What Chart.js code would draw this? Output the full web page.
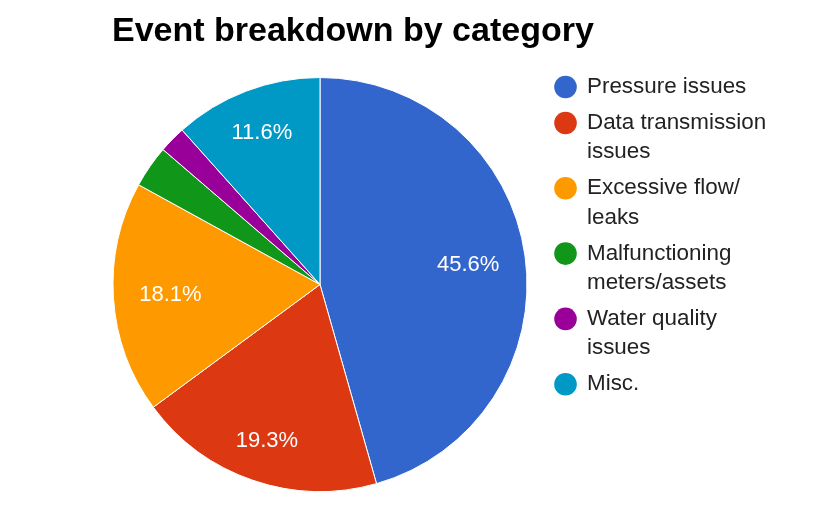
<!DOCTYPE html>
<html>
<head>
<meta charset="utf-8">
<script src="https://cdn.jsdelivr.net/npm/chart.js@4.4.1/dist/chart.umd.min.js"></script>
<style>
  body { margin: 0; background: #fff; }
  #wrap { width: 816px; height: 530px; position: relative; }
</style>
</head>
<body>
<div id="wrap"><canvas id="eventCanvas"></canvas></div>
<script>
const chartTitle = "Event breakdown by category";

const categories = [
  "Pressure issues",
  "Data transmission issues",
  "Excessive flow/leaks",
  "Malfunctioning meters/assets",
  "Water quality issues",
  "Misc."
];

// percent of events
const shares = [45.6, 19.3, 18.1, 3.3, 2.1, 11.6];

const sliceColors = [
  "#3366cc",
  "#dc3912",
  "#ff9900",
  "#109618",
  "#990099",
  "#0099c6"
];

const FONT = "'Liberation Sans', Arial, sans-serif";

// break a label into lines no wider than maxW (breaks after spaces and slashes)
function wrapLabel(ctx, text, maxW) {
  const tokens = text.match(/[^ \/]+[ \/]?/g) || [text];
  const lines = [];
  let line = "";
  tokens.forEach(function(tok) {
    const test = line + tok;
    if (line && ctx.measureText(test.trimEnd()).width > maxW) {
      lines.push(line.trimEnd());
      line = tok;
    } else {
      line = test;
    }
  });
  if (line) lines.push(line.trimEnd());
  return lines;
}

const extrasPlugin = {
  id: "extras",
  afterDraw(chart) {
    const ctx = chart.ctx;
    ctx.save();

    // title
    ctx.fillStyle = "#000";
    ctx.font = "bold 34px " + FONT;
    ctx.textAlign = "left";
    ctx.textBaseline = "middle";
    ctx.fillText(chartTitle, 112, 32);

    // slice labels
    const meta = chart.getDatasetMeta(0);
    const data = chart.data.datasets[0].data;
    const total = data.reduce(function(a, b) { return a + b; }, 0);
    ctx.font = "22px " + FONT;
    ctx.fillStyle = "#fff";
    ctx.textAlign = "center";
    meta.data.forEach(function(arc, i) {
      const pct = data[i] / total * 100;
      if (pct < 5) return;
      const txt = pct.toFixed(1) + "%";
      const w = ctx.measureText(txt).width;
      const h = 16;
      const mid = (arc.startAngle + arc.endAngle) / 2;
      const c = Math.cos(mid), s = Math.sin(mid);
      const d = arc.outerRadius * 0.877 - (Math.abs(c) * w / 2 + Math.abs(s) * h / 2);
      ctx.fillText(txt, arc.x + c * d, arc.y + s * d + 1);
    });

    // legend
    ctx.font = "22.4px " + FONT;
    ctx.textAlign = "left";
    let y = 87;
    categories.forEach(function(label, i) {
      ctx.beginPath();
      ctx.fillStyle = sliceColors[i];
      ctx.arc(565.5, y, 11.3, 0, Math.PI * 2);
      ctx.fill();
      ctx.fillStyle = "#222";
      const lines = wrapLabel(ctx, label, 188);
      lines.forEach(function(ln, k) {
        ctx.fillText(ln, 587, y + k * 29.3);
      });
      y += (lines.length - 1) * 29.3 + 36;
    });

    ctx.restore();
  }
};

new Chart(document.getElementById("eventCanvas"), {
  type: "pie",
  data: {
    labels: categories,
    datasets: [{
      data: shares,
      backgroundColor: sliceColors,
      borderColor: "#fff",
      borderWidth: 1
    }]
  },
  options: {
    responsive: true,
    maintainAspectRatio: false,
    animation: false,
    layout: {
      padding: { left: 112, right: 288, top: 77, bottom: 38 }
    },
    plugins: {
      legend: { display: false },
      title: { display: false },
      tooltip: { enabled: false }
    }
  },
  plugins: [extrasPlugin]
});
</script>
</body>
</html>
